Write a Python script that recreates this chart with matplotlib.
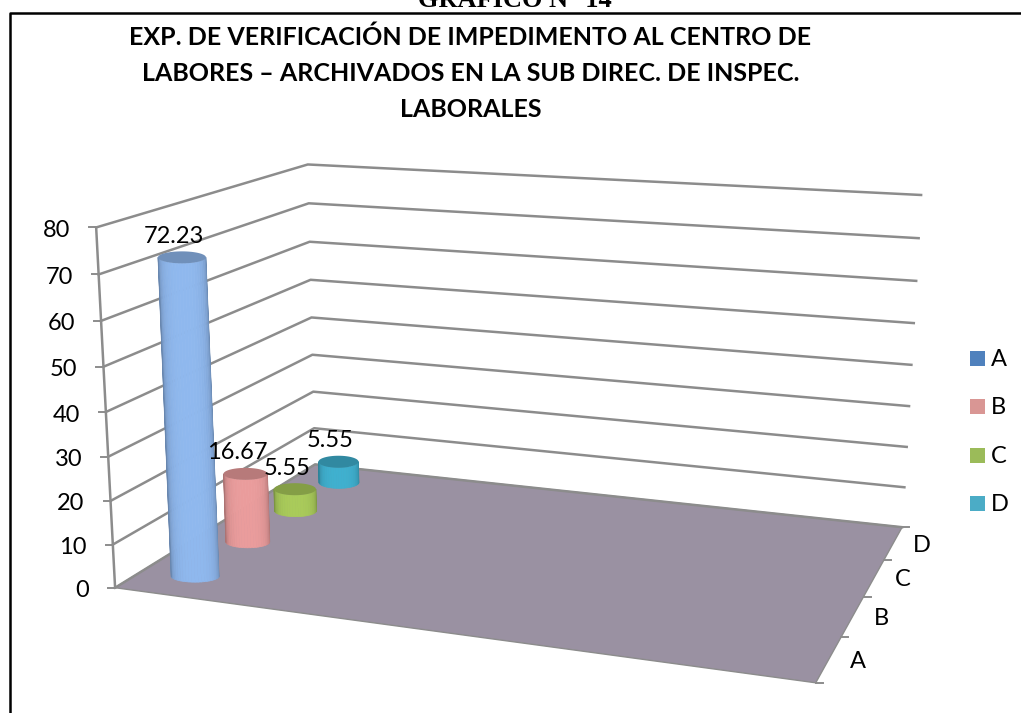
import numpy as np
import matplotlib
matplotlib.use('Agg')
import matplotlib.pyplot as plt
from matplotlib.collections import PolyCollection
from matplotlib.colors import to_rgb
from matplotlib.patches import Polygon

# Chart data
categories = ['A', 'B', 'C', 'D']
values = [72.23, 16.67, 5.55, 5.55]
value_labels = ['72.23', '16.67', '5.55', '5.55']
z_ticks = [0, 10, 20, 30, 40, 50, 60, 70, 80]
title = ('EXP. DE VERIFICACIÓN DE IMPEDIMENTO AL CENTRO DE\n'
         'LABORES – ARCHIVADOS EN LA SUB DIREC. DE INSPEC.\n'
         'LABORALES')

legend_colors = ['#4f81bd', '#d99694', '#9bbb59', '#4bacc6']
bar_colors = ['#8fb8ee', '#ea9c9c', '#a9cb5a', '#3fb0cf']
bar_half_widths = [24, 22, 21, 20]
grid_color = '#8c8c8c'
floor_color = '#9a91a2'

# Box corners: (x, depth, z) in chart units and where they land in the image
box_world = [(0, 0, 0), (0, 4, 0), (1, 4, 0), (1, 0, 0),
             (0, 0, 80), (0, 4, 80), (1, 4, 80)]
box_pixels = [(115, 587), (315, 465), (902, 527), (816, 683),
              (96, 228), (308, 164), (921, 195)]


def fit_camera(world, pixels):
    rows = []
    for (x, y, z), (u, v) in zip(world, pixels):
        rows.append([x, y, z, 1, 0, 0, 0, 0, -u*x, -u*y, -u*z, -u])
        rows.append([0, 0, 0, 0, x, y, z, 1, -v*x, -v*y, -v*z, -v])
    a = np.array(rows, dtype=float)
    return np.linalg.svd(a)[2][-1].reshape(3, 4)


cam = fit_camera(box_world, box_pixels)


def project(x, y, z):
    x, y, z = np.broadcast_arrays(np.asarray(x, float), np.asarray(y, float), np.asarray(z, float))
    pts = np.stack([x, y, z, np.ones_like(x)])
    u, v, w = cam @ pts.reshape(4, -1)
    return np.column_stack([u/w, v/w])


plt.rcParams['font.family'] = ['Lato', 'DejaVu Sans']
fig = plt.figure(figsize=(10.21, 7.13), dpi=100)
ax = fig.add_axes([0, 0, 1, 1])
ax.set_xlim(0, 1021)
ax.set_ylim(713, 0)
ax.axis('off')

# Page heading and chart frame (the frame is open on the right)
ax.text(515, 7, 'GRÁFICO N° 14', family='Liberation Serif', weight='bold',
        fontsize=19, ha='center', va='baseline', color='black')
ax.plot([10, 10, 1021], [713, 12.5, 12.5], color='black', lw=1.8)

ax.text(470.5, 73, title, ha='center', va='center', fontsize=18, weight='bold',
        color='black', linespacing=1.68)

# Floor
ax.add_patch(Polygon(project([0, 0, 1, 1], [0, 4, 4, 0], 0), closed=True,
                     facecolor=floor_color, edgecolor=grid_color, lw=1, zorder=1))

# Wall grid lines and value axis
for z in z_ticks:
    line = project([0, 0, 1], [0, 4, 4], z)
    ax.plot(line[:, 0], line[:, 1], color=grid_color, lw=1.8, zorder=2)
    start = project(0, 0, z)[0]
    ax.plot([start[0] - 7, start[0]], [start[1], start[1]], color=grid_color, lw=1.4, zorder=2)
    ax.text(start[0] - 26, start[1] + 3, str(z), ha='right', va='center', fontsize=17)
edge = project([0, 0], [0, 0], [0, 80])
ax.plot(edge[:, 0], edge[:, 1], color=grid_color, lw=1.8, zorder=2)

# Depth axis ticks and labels
for d in range(5):
    pos = project(1, d, 0)[0]
    ax.plot([pos[0], pos[0] + 7], [pos[1], pos[1]], color=grid_color, lw=1.4, zorder=2)
for d, name in enumerate(categories):
    pos = project(1, d + 0.5, 0)[0]
    ax.text(pos[0] + 29, pos[1] + 2, name, ha='center', va='center', fontsize=17)

# Cylinders, back to front
bar_x = 0.083
half_height = 6
n = 24
for i in reversed(range(len(values))):
    base = np.array(to_rgb(bar_colors[i]))
    w = bar_half_widths[i]
    low = project(bar_x, i + 0.5, 0)[0]
    high = project(bar_x, i + 0.5, values[i])[0]
    strips = []
    shades = []
    for k in range(n):
        a0, a1 = np.pi*k/n, np.pi*(k + 1)/n
        p0 = low + [w*np.cos(a0), half_height*np.sin(a0)]
        p1 = low + [w*np.cos(a1), half_height*np.sin(a1)]
        q0 = high + [w*np.cos(a0), half_height*np.sin(a0)]
        q1 = high + [w*np.cos(a1), half_height*np.sin(a1)]
        strips.append([p0, p1, q1, q0])
        mid = abs(2*(k + 0.5)/n - 1)
        shades.append(base*(1 - 0.3*mid**3))
    z = 10 - i
    ax.add_collection(PolyCollection(strips, facecolors=shades, edgecolors=shades,
                                     linewidths=0.5, zorder=z))
    t = np.linspace(0, 2*np.pi, 61)
    top = high + np.column_stack([w*np.cos(t), half_height*np.sin(t)])
    ax.add_patch(Polygon(top, closed=True, facecolor=base*0.78, edgecolor='none', zorder=z + 0.1))
    ax.text(high[0] - 8, high[1] - 21, value_labels[i], ha='center', va='center',
            fontsize=17, zorder=20)

# Legend
for i, name in enumerate(categories):
    y = 358.5 + i*48.3
    ax.add_patch(Polygon([(970, y-7.5), (985, y-7.5), (985, y+7.5), (970, y+7.5)],
                         closed=True, facecolor=legend_colors[i], edgecolor='none'))
    ax.text(991, y + 1, name, ha='left', va='center', fontsize=17)

fig.savefig('out.png', dpi=100)
